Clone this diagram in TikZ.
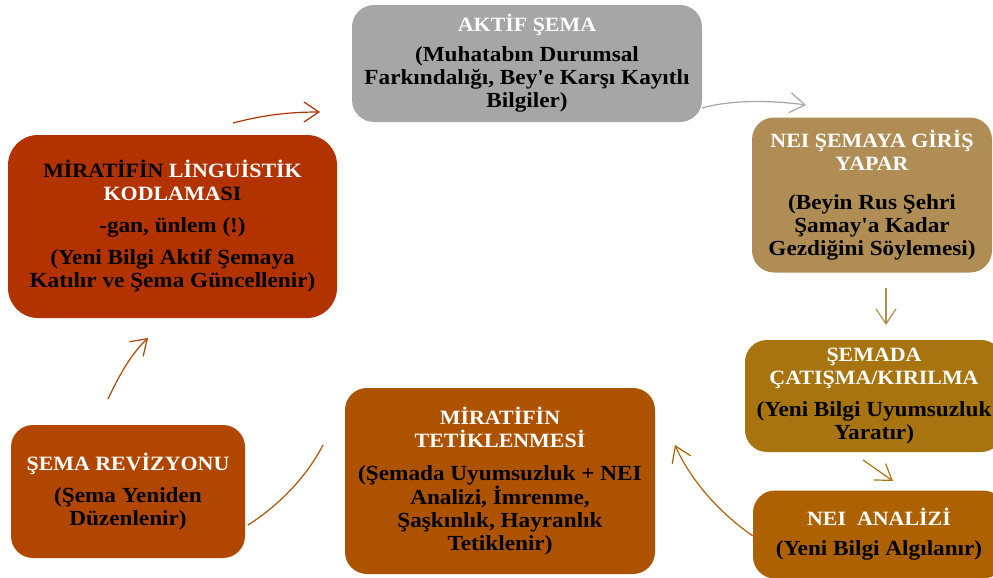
\documentclass[tikz,border=0pt]{standalone}
\usepackage{fontspec}
\setmainfont{Liberation Serif}[Ligatures=TeXOff, FakeStretch=1.08]
\usetikzlibrary{arrows.meta}

\definecolor{cgray}{HTML}{A6A6A6}
\definecolor{ctan}{HTML}{AF8D55}
\definecolor{cgold}{HTML}{A8740F}
\definecolor{corange}{HTML}{AE6100}
\definecolor{cburnt}{HTML}{AD5300}
\definecolor{crust}{HTML}{B04600}
\definecolor{cred}{HTML}{B33300}

% heading lines are set a little smaller than the body text
\newcommand\headsize{\fontsize{20.3}{23}\selectfont}
\newcommand\head[1]{{\headsize\color{white}#1}}

\tikzset{
  box/.style={rounded corners=22pt, inner sep=0pt, align=center,
    font=\fontsize{21.5}{23}\selectfont\bfseries},
  link/.style={line width=1.2pt, -{Straight Barb[length=15pt,width=20pt]}},
  plainlink/.style={line width=1.2pt},
}

\begin{document}
\begin{tikzpicture}[x=1pt,y=-1pt]
\useasboundingbox (0,0) rectangle (993,578);
\clip (0,0) rectangle (993,578);

% stages of the cycle
\node[box, fill=cgray, minimum width=350pt, minimum height=117pt] (aktif) at (527,63.5)
  {\head{AKTİF ŞEMA}\\[7pt]
   (Muhatabın Durumsal\\ Farkındalığı, Bey'e Karşı Kayıtlı\\ Bilgiler)};

\node[box, fill=ctan, minimum width=240pt, minimum height=155pt] (giris) at (872,195)
  {\head{NEI ŞEMAYA GİRİŞ}\\ \head{YAPAR}\\[16pt]
   (Beyin Rus Şehri\\ Şamay'a Kadar\\ Gezdiğini Söylemesi)};

\node[box, fill=cgold, minimum width=258pt, minimum height=112pt] (catisma) at (874,396)
  {\head{ŞEMADA}\\ \head{ÇATIŞMA/KIRILMA}\\[9pt]
   (Yeni Bilgi Uyumsuzluk\\ Yaratır)};

\node[box, fill=corange, minimum width=252pt, minimum height=88pt] (analiz) at (879,534.5)
  {\head{NEI\ \ ANALİZİ}\\[7pt] (Yeni Bilgi Algılanır)};

\node[box, fill=cburnt, minimum width=310pt, minimum height=186pt] (tetik) at (500,481)
  {\head{MİRATİFİN}\\ \head{TETİKLENMESİ}\\[10pt]
   (Şemada Uyumsuzluk + NEI\\ Analizi, İmrenme,\\ Şaşkınlık, Hayranlık\\ Tetiklenir)};

\node[box, fill=crust, minimum width=234pt, minimum height=133pt] (revizyon) at (128,491.5)
  {\head{ŞEMA REVİZYONU}\\[9pt] (Şema Yeniden\\ Düzenlenir)};

\node[box, rounded corners=30pt, fill=cred, minimum width=329pt, minimum height=183pt] (kodlama) at (172.5,226.5)
  {{\headsize MİRATİFİN \textcolor{white}{LİNGUİSTİK}}\\
   {\headsize\textcolor{white}{KODLAMA}SI}\\[9pt]
   -gan, ünlem (!)\\[9pt]
   (Yeni Bilgi Aktif Şemaya\\ Katılır ve Şema Güncellenir)};

% connector end points
\coordinate (k1) at (233,123);  \coordinate (a1) at (320,112);
\coordinate (a2) at (702,108);  \coordinate (g1) at (806,105);
\coordinate (g2) at (886,288);  \coordinate (c1) at (886,325);
\coordinate (c2) at (863,460);  \coordinate (n1) at (893,481);
\coordinate (n2) at (753,536);  \coordinate (t1) at (675,445);
\coordinate (t2) at (323,445);  \coordinate (r1) at (248,525);
\coordinate (r2) at (108,399);  \coordinate (k2) at (148,338);

% connectors
\draw[link, cred] (k1) .. controls (260,116) and (285,112) .. (a1);
\draw[link, cgray] (a2) .. controls (730,100) and (770,100) .. (g1);
\draw[link, ctan] (g2) -- (c1);
\draw[link, cgold] (c2) -- (n1);
\draw[link, corange] (n2) .. controls (715,510) and (688,475) .. (t1);
\draw[plainlink, cburnt] (r1) .. controls (275,508) and (305,480) .. (t2);
\draw[link, crust] (r2) .. controls (118,378) and (130,355) .. (k2);
\end{tikzpicture}
\end{document}
